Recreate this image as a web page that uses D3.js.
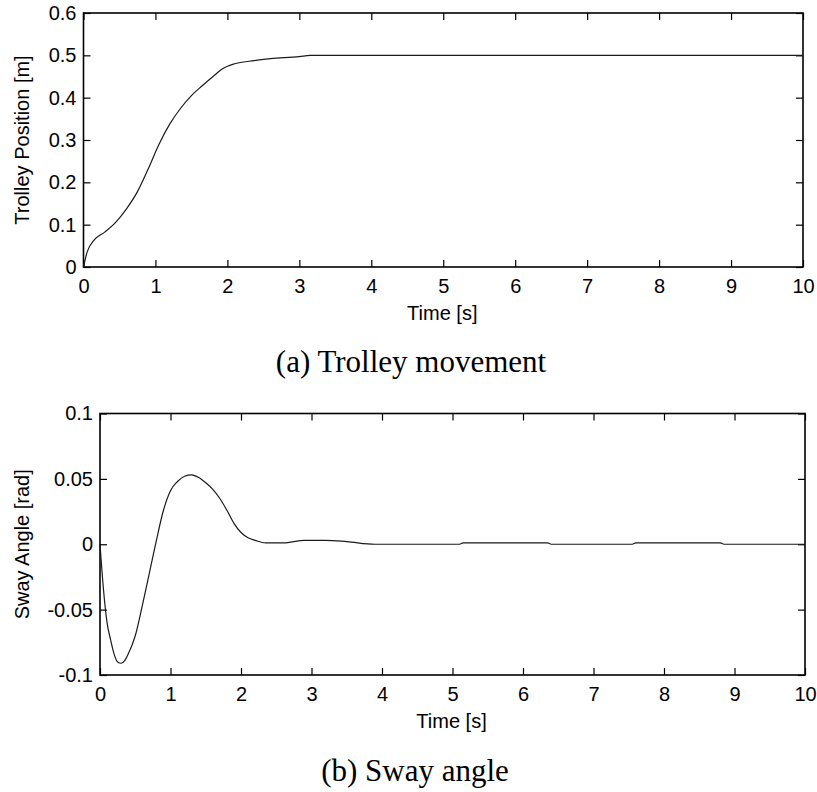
<!DOCTYPE html>
<html>
<head>
<meta charset="utf-8">
<script src="https://cdn.jsdelivr.net/npm/d3@7"></script>
<style>
body { margin: 0; background: #fff; }
.axis text { font-family: "Liberation Sans", Arial, sans-serif; font-size: 20px; fill: #000; }
.axis line { stroke: #000; stroke-width: 1.2; }
.label { font-family: "Liberation Sans", Arial, sans-serif; font-size: 20px; fill: #000; }
.caption { font-family: "Liberation Serif", "Times New Roman", serif; font-size: 31px; fill: #000; }
</style>
</head>
<body>
<div id="plot"></div>
<script>
// trolley position (m) vs time (s)
var posTime = [0, 0.05, 0.15, 0.3, 0.45, 0.6, 0.75, 0.9, 1.05, 1.2, 1.35, 1.5, 1.65, 1.8, 1.95, 2.1, 2.3, 2.6, 3.0, 3.15, 10];
var posValue = [0, 0.035, 0.064, 0.083, 0.106, 0.138, 0.178, 0.232, 0.29, 0.338, 0.375, 0.405, 0.428, 0.45, 0.47, 0.48, 0.486, 0.492, 0.497, 0.5, 0.5];

// sway angle (rad) vs time (s)
var swayTime = [0, 0.05, 0.1, 0.15, 0.2, 0.25, 0.3, 0.35, 0.4, 0.5, 0.6, 0.7, 0.8, 0.9, 1.0, 1.1, 1.2, 1.3, 1.4, 1.5, 1.6, 1.7, 1.8, 1.9, 2.0, 2.1, 2.2, 2.35, 2.6, 2.9, 3.2, 3.5, 3.9, 5.1, 5.15, 6.35, 6.4, 7.55, 7.6, 8.8, 8.85, 10];
var swayValue = [0, -0.035, -0.06, -0.073, -0.084, -0.09, -0.091, -0.089, -0.084, -0.07, -0.047, -0.022, 0.003, 0.026, 0.041, 0.048, 0.052, 0.053, 0.051, 0.047, 0.042, 0.035, 0.026, 0.016, 0.009, 0.005, 0.003, 0.001, 0.001, 0.003, 0.003, 0.002, 0, 0, 0.001, 0.001, 0, 0, 0.001, 0.001, 0, 0];

var timeTicks = [0, 1, 2, 3, 4, 5, 6, 7, 8, 9, 10];
var posTicks = [0, 0.1, 0.2, 0.3, 0.4, 0.5, 0.6];
var swayTicks = [-0.1, -0.05, 0, 0.05, 0.1];

var w = 817;
var h = 792;
var tickLen = 7;

var svg = d3.select("#plot").append("svg").attr("width", w).attr("height", h);

var drawPanel = function(p) {
	var xScale = d3.scaleLinear().domain([0, 10]).range([p.left, p.right]);
	var yScale = d3.scaleLinear().domain(p.yDomain).range([p.bottom, p.top]);

	// ticks pointing inwards, mirrored on top and right
	svg.append("g").attr("class", "axis")
		.attr("transform", "translate(0," + p.bottom + ")")
		.call(d3.axisBottom(xScale).tickValues(timeTicks).tickSizeInner(-tickLen).tickSizeOuter(0).tickPadding(12).tickFormat(d3.format("d")));
	svg.append("g").attr("class", "axis")
		.attr("transform", "translate(0," + p.top + ")")
		.call(d3.axisTop(xScale).tickValues(timeTicks).tickSizeInner(-tickLen).tickSizeOuter(0).tickFormat(""));
	svg.append("g").attr("class", "axis")
		.attr("transform", "translate(" + p.left + ",0)")
		.call(d3.axisLeft(yScale).tickValues(p.yTicks).tickSizeInner(-tickLen).tickSizeOuter(0).tickPadding(7).tickFormat(function(d) { return String(+d.toFixed(2)); }));
	svg.append("g").attr("class", "axis")
		.attr("transform", "translate(" + p.right + ",0)")
		.call(d3.axisRight(yScale).tickValues(p.yTicks).tickSizeInner(-tickLen).tickSizeOuter(0).tickFormat(""));
	svg.selectAll(".axis .domain").remove();

	svg.append("rect")
		.attr("x", p.left)
		.attr("y", p.top)
		.attr("width", p.right - p.left)
		.attr("height", p.bottom - p.top)
		.attr("fill", "none")
		.attr("stroke", "#000")
		.attr("stroke-width", 1.6);

	var line = d3.line()
		.x(function(d) { return xScale(d[0]); })
		.y(function(d) { return yScale(d[1]); })
		.curve(d3.curveMonotoneX);

	svg.append("path")
		.datum(d3.zip(p.xs, p.ys))
		.attr("d", line)
		.attr("fill", "none")
		.attr("stroke", "#1a1a1a")
		.attr("stroke-width", 1.2);

	svg.append("text").attr("class", "label")
		.attr("x", (p.left + p.right) / 2 - 1)
		.attr("y", p.bottom + 53)
		.attr("text-anchor", "middle")
		.text("Time [s]");

	svg.append("text").attr("class", "label")
		.attr("transform", "translate(29," + ((p.top + p.bottom) / 2) + ") rotate(-90)")
		.attr("text-anchor", "middle")
		.text(p.yLabel);

	svg.append("text").attr("class", "caption")
		.attr("x", p.capX)
		.attr("y", p.capY)
		.attr("text-anchor", "middle")
		.text(p.caption);
}

drawPanel({
	left: 83.5, right: 803, top: 13, bottom: 267,
	yDomain: [0, 0.6], yTicks: posTicks,
	xs: posTime, ys: posValue,
	yLabel: "Trolley Position [m]",
	caption: "(a) Trolley movement", capX: 411, capY: 372
});

drawPanel({
	left: 100, right: 805, top: 413.5, bottom: 675,
	yDomain: [-0.1, 0.1], yTicks: swayTicks,
	xs: swayTime, ys: swayValue,
	yLabel: "Sway Angle [rad]",
	caption: "(b) Sway angle", capX: 415, capY: 781
});
</script>
</body>
</html>
